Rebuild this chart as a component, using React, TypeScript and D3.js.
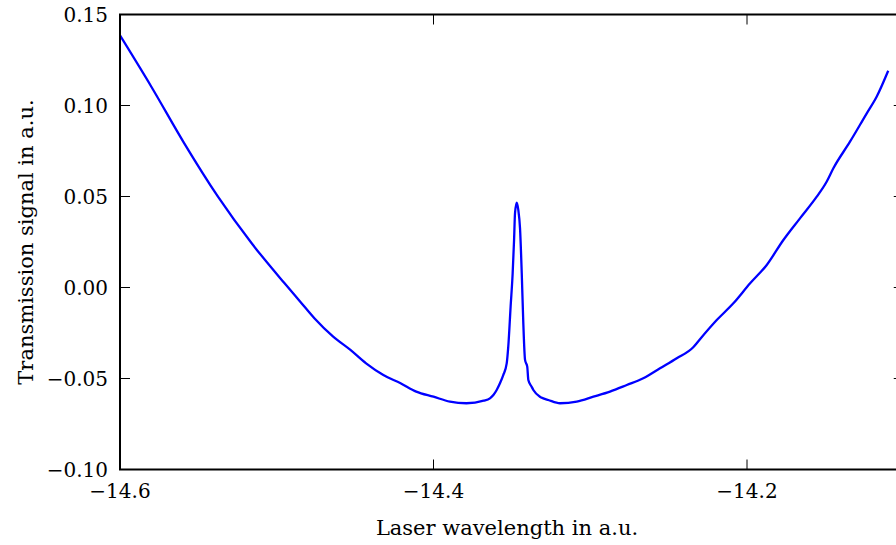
import React from "react";
import * as d3 from "d3";

const wavelength: number[] = [
  -14.6, -14.58, -14.559, -14.5375, -14.516, -14.495, -14.485, -14.476, -14.464, -14.453,
  -14.443, -14.432, -14.421, -14.411, -14.4, -14.3895, -14.379, -14.368, -14.364, -14.3618,
  -14.3597, -14.3576, -14.3555, -14.3533, -14.3523, -14.3508, -14.3495, -14.3486, -14.348, -14.3469,
  -14.3459, -14.3448, -14.3437, -14.3427, -14.3416, -14.3402, -14.3395, -14.3374, -14.3363, -14.3321,
  -14.33, -14.3268, -14.3193, -14.3086, -14.298, -14.2874, -14.2767, -14.2662, -14.2555, -14.2448,
  -14.2343, -14.23, -14.2193, -14.2087, -14.198, -14.1874, -14.1768, -14.1662, -14.1555, -14.1492,
  -14.1449, -14.1343, -14.1236, -14.1173, -14.1099,
];
const signal: number[] = [
  0.1385, 0.1103, 0.0792, 0.0499, 0.0243, 0.0023, -0.0078, -0.0169, -0.027, -0.0343,
  -0.0417, -0.0481, -0.0526, -0.0572, -0.06, -0.0627, -0.0636, -0.0622, -0.0609, -0.0591,
  -0.0563, -0.0526, -0.0481, -0.0417, -0.0325, -0.0105, 0.0078, 0.0261, 0.0408, 0.0466,
  0.0426, 0.0325, 0.0078, -0.0197, -0.0398, -0.0435, -0.0508, -0.0545, -0.0563, -0.06,
  -0.0609, -0.0618, -0.0636, -0.0627, -0.06, -0.0572, -0.0536, -0.0499, -0.0444, -0.0389,
  -0.0328, -0.0284, -0.0179, -0.0087, 0.0023, 0.0124, 0.0261, 0.038, 0.0499, 0.0581,
  0.0655, 0.0801, 0.0957, 0.1048, 0.1191,
];
const xTicks: number[] = [-14.6, -14.4, -14.2];
const yTicks: number[] = [-0.1, -0.05, 0.0, 0.05, 0.1, 0.15];
const xLabel = "Laser wavelength in a.u.";
const yLabel = "Transmission signal in a.u.";

const W = 896;
const H = 545;
const FONT = "'DejaVu Serif', 'Liberation Serif', serif";

export default function App() {
  const x = d3.scaleLinear().domain([-14.6, -14.1]).range([120, 903.75]);
  const y = d3.scaleLinear().domain([-0.1, 0.15]).range([469.5, 14.5]);
  const [x0, x1] = x.range();
  const [y0, y1] = y.range();
  const pts = wavelength.map((w, i) => [w, signal[i]] as [number, number]);
  const line = d3
    .line<[number, number]>()
    .x((d) => x(d[0]))
    .y((d) => y(d[1]))
    .curve(d3.curveMonotoneX);
  const fmtX = (v: number) => v.toFixed(1).replace("-", "\u2212");
  const fmtY = (v: number) => v.toFixed(2).replace("-", "\u2212");
  const tl = 10;
  const fs = 20;
  const lfs = 21;
  return (
    <svg
      width={W}
      height={H}
      style={{ position: "absolute", left: 0, top: 0, background: "#fff" }}
      fontFamily={FONT}
    >
      <rect x={0} y={0} width={W} height={H} fill="#fff" />
      <defs>
        <clipPath id="plotclip">
          <rect x={x0} y={y1} width={x1 - x0} height={y0 - y1} />
        </clipPath>
      </defs>
      <path
        d={line(pts) || ""}
        fill="none"
        stroke="#0000ff"
        strokeWidth={2.3}
        strokeLinejoin="round"
        clipPath="url(#plotclip)"
      />
      {xTicks.map((t) => (
        <g key={"xt" + t}>
          <line x1={x(t)} x2={x(t)} y1={y0} y2={y0 - tl} stroke="#000" strokeWidth={1} />
          <line x1={x(t)} x2={x(t)} y1={y1} y2={y1 + tl} stroke="#000" strokeWidth={1} />
          <text x={x(t)} y={498} textAnchor="middle" fontSize={fs} fill="#000">
            {fmtX(t)}
          </text>
        </g>
      ))}
      {yTicks.map((t) => (
        <g key={"yt" + t}>
          <line x1={x0} x2={x0 + tl} y1={y(t)} y2={y(t)} stroke="#000" strokeWidth={1} />
          <line x1={x1} x2={x1 - tl} y1={y(t)} y2={y(t)} stroke="#000" strokeWidth={1} />
          <text
            x={108}
            y={y(t)}
            dy="0.35em"
            textAnchor="end"
            fontSize={fs}
            fill="#000"
          >
            {fmtY(t)}
          </text>
        </g>
      ))}
      <rect
        x={x0}
        y={y1}
        width={x1 - x0}
        height={y0 - y1}
        fill="none"
        stroke="#000"
        strokeWidth={2}
      />
      <text x={507} y={535} textAnchor="middle" fontSize={lfs} fill="#000">
        {xLabel}
      </text>
      <text
        transform={`translate(33, ${(y0 + y1) / 2}) rotate(-90)`}
        textAnchor="middle"
        fontSize={lfs}
        fill="#000"
      >
        {yLabel}
      </text>
    </svg>
  );
}
